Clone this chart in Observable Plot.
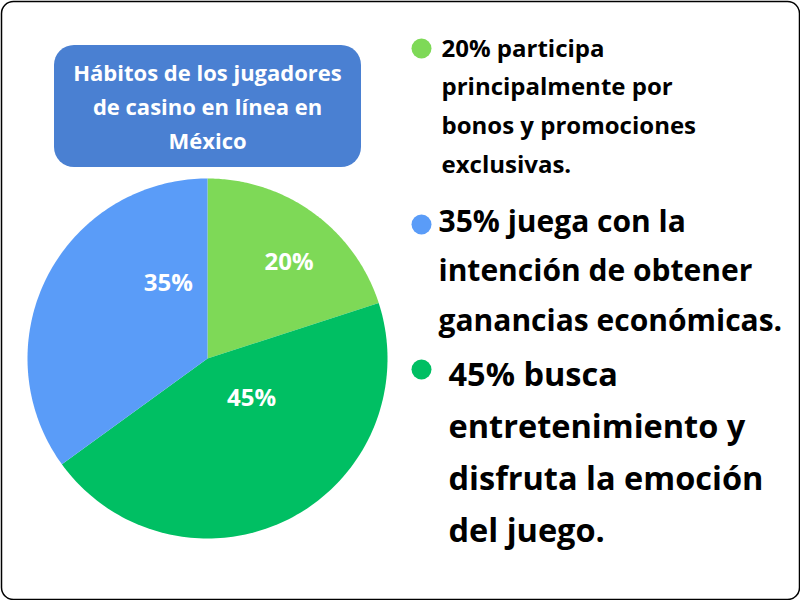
<!DOCTYPE html>
<html>
<head>
<meta charset="utf-8">
<script src="https://cdn.jsdelivr.net/npm/d3@7"></script>
<script src="https://cdn.jsdelivr.net/npm/@observablehq/plot@0.6"></script>
<style>
  html, body { margin: 0; padding: 0; background: #ffffff; }
  #chart { width: 800px; height: 600px; }
  svg { font-family: "Open Sans", Lato, sans-serif; }
</style>
</head>
<body>
<div id="chart"></div>
<script>
// ---- data ----
const categories = ["20%", "45%", "35%"];
const values = [20, 45, 35];
const colors = ["#7ED957", "#00BF63", "#5A9CF8"];
const titleLines = ["Hábitos de los jugadores", "de casino en línea en", "México"];
const legendTexts = [
  ["20% participa", "principalmente por", "bonos y promociones", "exclusivas."],
  ["35% juega con la", "intención de obtener", "ganancias económicas."],
  ["45% busca", "entretenimiento y", "disfruta la emoción", "del juego."]
];
const legendColorIndex = [0, 2, 1];

// ---- layout (pixels) ----
const W = 800, H = 600;
const pie = { cx: 207, cy: 358, r: 180 };
const labelRadius = 0.6;
const labelNudge = [[18, -9], [-5, -56], [57, -26]];
const labelFontSize = 24;
const titleBox = { x1: 54, x2: 361, y1: 45, y2: 167, rx: 20, fill: "#4A80D2" };
const titleStyle = { x: 207, baseline: 80, spacing: 34, fontSize: 22 };
const legendStyle = [
  { dotX: 421, dotY: 48, textX: 441, baseline: 56, spacing: 38.8, fontSize: 24 },
  { dotX: 421, dotY: 224, textX: 438, baseline: 231, spacing: 49.5, fontSize: 30 },
  { dotX: 421, dotY: 369, textX: 448, baseline: 385, spacing: 52.3, fontSize: 32.5 }
];

// ---- build pie polygons ----
const arcs = d3.pie().sort(null).value(d => d)(values);
const slicePts = [];
arcs.forEach((a, i) => {
  const n = 120;
  slicePts.push({ k: i, x: pie.cx, y: pie.cy, c: colors[i] });
  for (let j = 0; j <= n; j++) {
    const t = a.startAngle + (a.endAngle - a.startAngle) * j / n;
    slicePts.push({ k: i, x: pie.cx + pie.r * Math.sin(t), y: pie.cy - pie.r * Math.cos(t), c: colors[i] });
  }
  slicePts.push({ k: i, x: pie.cx, y: pie.cy, c: colors[i] });
});
const labels = arcs.map((a, i) => {
  const m = (a.startAngle + a.endAngle) / 2;
  return {
    text: categories[i],
    x: pie.cx + pie.r * labelRadius * Math.sin(m) + labelNudge[i][0],
    y: pie.cy - pie.r * labelRadius * Math.cos(m) + labelNudge[i][1]
  };
});

// single-line text with default lineAnchor "middle": baseline = y + 0.32em
const lineRows = (lines, s, x) => lines.map((t, j) => ({
  text: t, x, y: s.baseline + j * s.spacing - 0.32 * s.fontSize
}));

const legendMarks = legendTexts.flatMap((lines, i) => {
  const s = legendStyle[i];
  return [
    Plot.dot([0], { x: () => s.dotX, y: () => s.dotY, r: 10, fill: colors[legendColorIndex[i]], stroke: "none" }),
    Plot.text(lineRows(lines, s, s.textX), {
      x: "x", y: "y", text: "text", textAnchor: "start",
      fontSize: s.fontSize, fontWeight: 700, fill: "#000"
    })
  ];
});

const chart = Plot.plot({
  width: W, height: H, margin: 0,
  x: { domain: [0, W], range: [0, W], axis: null },
  y: { domain: [0, H], range: [0, H], axis: null },
  marks: [
    Plot.frame({ stroke: "#000", strokeWidth: 1.5, rx: 12, inset: 1 }),
    Plot.rect([titleBox], { x1: "x1", x2: "x2", y1: "y1", y2: "y2", rx: titleBox.rx, fill: titleBox.fill }),
    Plot.text(lineRows(titleLines, titleStyle, titleStyle.x), {
      x: "x", y: "y", text: "text",
      fontSize: titleStyle.fontSize, fontWeight: 700, fill: "#fff"
    }),
    Plot.line(slicePts, { x: "x", y: "y", z: "k", fill: "c", stroke: "none", curve: "linear" }),
    Plot.text(labels, { x: "x", y: "y", text: "text", fill: "#fff", fontSize: labelFontSize, fontWeight: 700 }),
    ...legendMarks
  ]
});
document.getElementById("chart").appendChild(chart);
</script>
</body>
</html>
